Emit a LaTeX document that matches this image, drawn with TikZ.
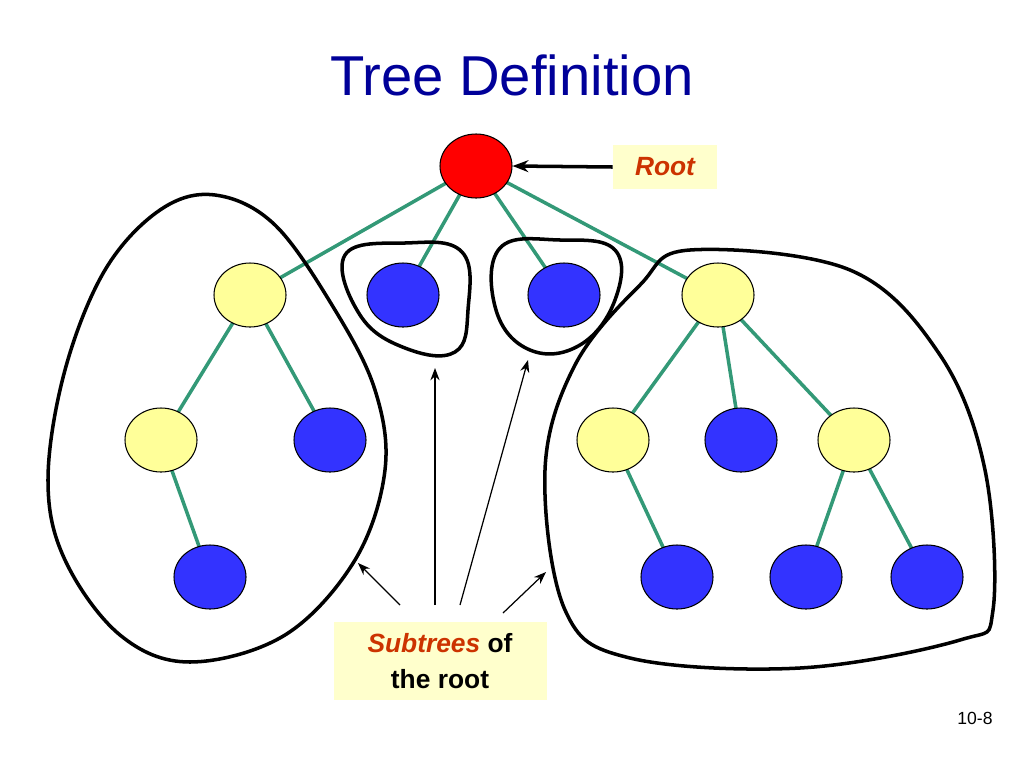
\documentclass[tikz,border=0pt]{standalone}
\usepackage{fontspec}
\setmainfont{Liberation Sans}
\usetikzlibrary{shapes.geometric,arrows.meta}
\definecolor{edge}{HTML}{339977}
\definecolor{loop}{HTML}{CC3300}
\definecolor{nyellow}{HTML}{FFFF99}
\definecolor{nblue}{HTML}{3333FF}
\definecolor{boxy}{HTML}{FFFFCC}
\definecolor{title}{HTML}{000099}
\begin{document}
\begin{tikzpicture}[x=0.02cm,y=-0.02cm,
  nd/.style={ellipse,draw=black,line width=0.6pt,minimum width=72*0.02cm,minimum height=64*0.02cm,inner sep=0pt},
  Y/.style={nd,fill=nyellow},B/.style={nd,fill=nblue},R/.style={nd,fill=red},
  ed/.style={edge,line width=2pt},
  lp/.style={loop,line width=2pt},
  ar/.style={-{Stealth[length=7pt]},line width=0.7pt}]
\useasboundingbox (0,0) rectangle (1024,768);
\node[title,font=\fontsize{32}{36}\selectfont] (t) at (512,75) {Tree Definition};
\draw[ed] (476,166) -- (250,295) (476,166) -- (403,295) (476,166) -- (564,295) (476,166) -- (718,295)
 (250,295) -- (161,440) (250,295) -- (330,440) (161,440) -- (210,577)
 (718,295) -- (613,440) (718,295) -- (741,440) (718,295) -- (854,440)
 (613,440) -- (677,577) (854,440) -- (806,577) (854,440) -- (927,577);
\node[R] (r) at (476,166) {};
\node[Y] (a) at (250,295) {}; \node[B] (b) at (403,295) {}; \node[B] (c) at (564,295) {}; \node[Y] (d) at (718,295) {};
\node[Y] (a1) at (161,440) {}; \node[B] (a2) at (330,440) {}; \node[B] (a3) at (210,577) {};
\node[Y] (d1) at (613,440) {}; \node[B] (d2) at (741,440) {}; \node[Y] (d3) at (854,440) {};
\node[B] (d4) at (677,577) {}; \node[B] (d5) at (806,577) {}; \node[B] (d6) at (927,577) {};
\draw[lp] plot[smooth cycle,tension=0.6] coordinates {(160,210) (215,195) (275,225) (335,310) (375,390) (385,470) (355,560) (285,635) (190,662) (120,635) (65,560) (48,480) (65,370) (105,270)};
\draw[lp] plot[smooth cycle,tension=0.7] coordinates {(345,255) (405,243) (462,252) (468,310) (455,352) (405,348) (360,315)};
\draw[lp] plot[smooth cycle,tension=0.7] coordinates {(500,248) (560,240) (615,250) (615,300) (580,345) (530,350) (496,310)};
\draw[lp] plot[smooth cycle,tension=0.6] coordinates {(690,250) (850,270) (940,355) (985,470) (993,610) (960,640) (800,668) (630,658) (565,610) (545,470) (575,365) (640,285)};
\node[fill=boxy,minimum width=104*0.02cm,minimum height=44*0.02cm,text=loop,font=\fontsize{15}{18}\selectfont\bfseries\itshape] (rl) at (665,167) {Root};
\draw[loop,line width=2pt,-{Stealth[length=9pt]}] (rl.west) -- (r.east);
\node[fill=boxy,minimum width=213*0.02cm,minimum height=78*0.02cm,align=center,font=\fontsize{15}{20}\selectfont\bfseries] (s) at (440,661) {{\color{loop}\itshape Subtrees} of\\the root};
\coordinate (s1) at (400,605); \coordinate (s2) at (435,605); \coordinate (s3) at (460,605); \coordinate (s4) at (503,613);
\coordinate (e1) at (358,563); \coordinate (e2) at (435,368); \coordinate (e3) at (528,360); \coordinate (e4) at (546,572);
\draw[ar] (s1) -- (e1); \draw[ar] (s2) -- (e2); \draw[ar] (s3) -- (e3); \draw[ar] (s4) -- (e4);
\node[font=\fontsize{10}{12}\selectfont] (pg) at (975,718) {10-8};
\end{tikzpicture}
\end{document}
